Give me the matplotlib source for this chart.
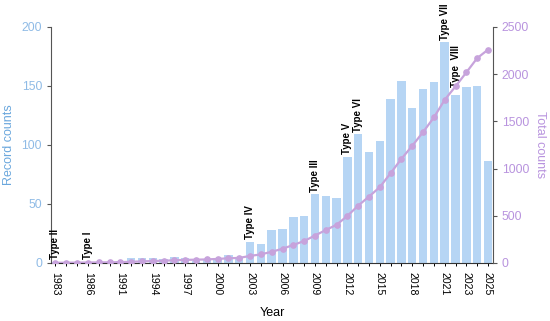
import matplotlib.pyplot as plt
import numpy as np

# Data
years = ['1983', '1984', '1985', '1986', '1987', '1989',
         '1991', '1992', '1993', '1994', '1995', '1996', '1997', '1998', '1999',
         '2000', '2001', '2002', '2003', '2004', '2005', '2006', '2007', '2008',
         '2009', '2010', '2011', '2012', '2013', '2014', '2015', '2016', '2017',
         '2018', '2019', '2020', '2021', '2022', '2023', '2024', '2025']
record_counts = [1, 1, 1, 1, 1, 1,
                 2, 4, 4, 4, 3, 5, 4, 2, 3,
                 3, 7, 4, 18, 16, 28, 29, 39, 40,
                 58, 57, 55, 90, 109, 94, 103, 139, 154,
                 131, 147, 153, 187, 142, 149, 150, 86]
total_counts = [1, 2, 3, 4, 5, 6,
                8, 12, 16, 20, 23, 28, 32, 34, 37,
                42, 49, 53, 74, 90, 118, 150, 190, 232,
                290, 348, 404, 498, 607, 703, 803, 951, 1103,
                1241, 1386, 1541, 1728, 1870, 2018, 2169, 2259]
shown_labels = ['1983', '1986', '1991', '1994', '1997', '2000', '2003', '2006',
                '2009', '2012', '2015', '2018', '2021', '2023', '2025']
type_years = ['1983', '1986', '2003', '2009', '2012', '2013', '2021', '2022']
type_names = ['Type II', 'Type I', 'Type IV', 'Type III', 'Type V', 'Type VI',
              'Type VII', 'Type  VIII']

plt.rcParams['font.family'] = ['Liberation Sans', 'DejaVu Sans']

bar_color = '#b6d5f4'
line_color = '#c7a3dc'
left_color = '#6aa7dd'
right_color = '#b893de'

fig = plt.figure(figsize=(5.5, 3.21), dpi=100)
ax = fig.add_axes([0.093, 0.181, 0.803, 0.735])
x = np.arange(len(years))

ax.bar(x, record_counts, width=0.78, color=bar_color, zorder=1)
ax.set_xlim(-0.4, len(years) - 0.55)
ax.set_ylim(0, 200)
ax.set_yticks([0, 50, 100, 150, 200])
ax.tick_params(axis='y', colors='#555555', labelcolor='#8fbbe6',
               labelsize=8.8, length=3, width=0.8)
ax.set_ylabel('Record counts', color=left_color, fontsize=9, labelpad=5)

ax.set_xticks(x)
ax.set_xticklabels([y if y in shown_labels else '' for y in years],
                   rotation=-90, fontsize=7.6)
ax.tick_params(axis='x', length=2.5, width=0.7, pad=4)
ax.set_xlabel('Year', fontsize=9, labelpad=8)

ax.spines['top'].set_visible(False)
ax.spines['right'].set_visible(False)
ax.spines['left'].set_color('#555555')
ax.spines['bottom'].set_color('#333333')

# type annotations above bars
for yr, name in zip(type_years, type_names):
    i = years.index(yr)
    off = 6 if name == 'Type  VIII' else 2
    ax.annotate(name, (i, record_counts[i]), xytext=(0, off),
                textcoords='offset points', rotation=90,
                ha='center', va='bottom', fontsize=7, fontweight='bold')

ax2 = ax.twinx()
ax2.plot(x, total_counts, color=line_color, lw=1.6, marker='o',
         markersize=3.8, zorder=3)
ax2.set_ylim(0, 2500)
ax2.set_yticks([0, 500, 1000, 1500, 2000, 2500])
ax2.tick_params(axis='y', colors='#555555', labelcolor=right_color,
                labelsize=8.8, length=3, width=0.8)
ax2.set_ylabel('Total counts', color=right_color, fontsize=9,
               rotation=270, labelpad=12)
for s in ['top', 'left', 'bottom']:
    ax2.spines[s].set_visible(False)
ax2.spines['right'].set_color('#555555')

fig.savefig('out.png', dpi=100)
